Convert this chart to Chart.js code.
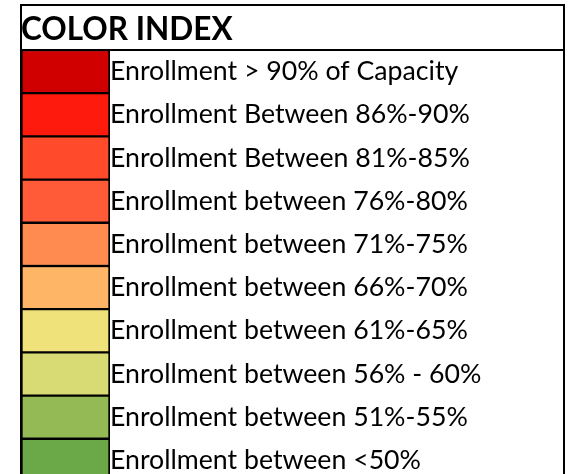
<!DOCTYPE html>
<html>
<head>
<meta charset="utf-8">
<script src="https://cdn.jsdelivr.net/npm/chart.js@4/dist/chart.umd.min.js"></script>
<style>
  html, body { margin: 0; padding: 0; background: #fff; overflow: hidden; height: 474px; }
  #wrap { position: relative; width: 571px; height: 498px; }
</style>
</head>
<body>
<div id="wrap"><canvas id="chart"></canvas></div>
<script>
// Color index rows, top to bottom
const categories = [
  'Enrollment > 90% of Capacity',
  'Enrollment Between 86%-90%',
  'Enrollment Between 81%-85%',
  'Enrollment between 76%-80%',
  'Enrollment between 71%-75%',
  'Enrollment between 66%-70%',
  'Enrollment between 61%-65%',
  'Enrollment between 56% - 60%',
  'Enrollment between 51%-55%',
  'Enrollment between <50%'
];
const swatchColors = [
  '#D10000', '#FF1A0E', '#FF4B2B', '#FF5B38', '#FF8B50',
  '#FFB566', '#F0E27A', '#D8DA74', '#93BA55', '#6BA847'
];
const swatchValues = [1, 1, 1, 1, 1, 1, 1, 1, 1, 1];
const titleText = 'COLOR INDEX';

// outer box + header rule
const tableFrame = {
  id: 'tableFrame',
  afterDraw(chart) {
    const { ctx, chartArea } = chart;
    const right = chart.scales.y.right;
    ctx.save();
    ctx.strokeStyle = '#000';
    ctx.lineWidth = 2;
    ctx.beginPath();
    ctx.moveTo(chartArea.left, chart.height);
    ctx.lineTo(chartArea.left, 5);
    ctx.lineTo(right, 5);
    ctx.lineTo(right, chart.height);
    ctx.moveTo(chartArea.left, chartArea.top);
    ctx.lineTo(right, chartArea.top);
    ctx.stroke();
    ctx.restore();
  }
};

new Chart(document.getElementById('chart'), {
  type: 'bar',
  data: {
    labels: categories,
    datasets: [{
      data: swatchValues,
      backgroundColor: swatchColors,
      borderColor: '#000',
      borderWidth: { top: 1.5, bottom: 1.5, left: 2, right: 2 },
      borderSkipped: false,
      barPercentage: 1,
      categoryPercentage: 1
    }]
  },
  options: {
    indexAxis: 'y',
    responsive: true,
    maintainAspectRatio: false,
    animation: false,
    layout: { autoPadding: false, padding: { left: 21, right: 7, top: 0, bottom: 1 } },
    plugins: {
      legend: { display: false },
      tooltip: { enabled: false },
      title: {
        display: true,
        text: titleText,
        align: 'start',
        color: '#000',
        font: { family: 'Lato', size: 31.5, weight: 'bold', lineHeight: 1.2 },
        padding: { top: 11, bottom: 1.2 }
      }
    },
    scales: {
      x: { display: false, min: 0, max: 1 },
      y: {
        position: 'right',
        // label column fills the rest of the table
        afterFit(scale) { scale.width = 454; },
        grid: { display: false, drawTicks: false },
        border: { display: false },
        ticks: {
          padding: 0,
          autoSkip: false,
          color: '#000',
          font: { family: 'Lato', size: 26.7 }
        }
      }
    }
  },
  plugins: [tableFrame]
});
</script>
</body>
</html>
